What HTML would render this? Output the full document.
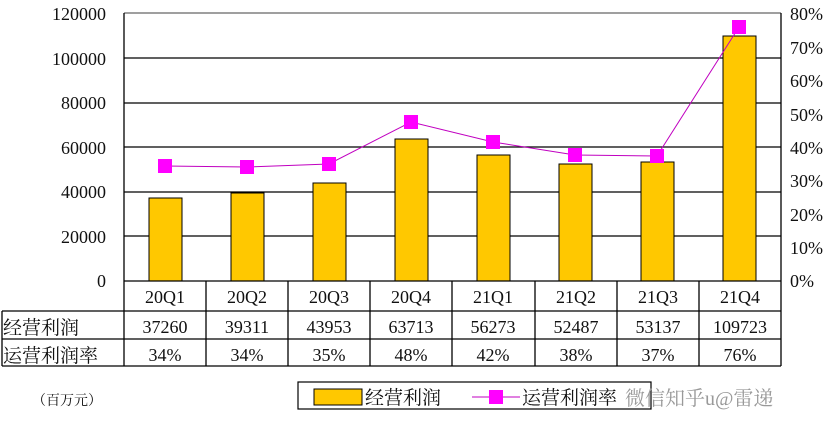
<!DOCTYPE html>
<html><head><meta charset="utf-8"><style>
html,body{margin:0;padding:0;background:#fff;width:837px;height:432px;overflow:hidden}
svg{display:block}
text{font-family:"Liberation Serif","Noto Serif CJK SC",serif;fill:#111}
</style></head><body>
<svg width="837" height="432" viewBox="0 0 837 432" xmlns="http://www.w3.org/2000/svg">
<g stroke="#000" stroke-width="1.2">
<line x1="124" y1="13" x2="781" y2="13" stroke="#666"/>
<line x1="124" y1="58" x2="781" y2="58"/>
<line x1="124" y1="103" x2="781" y2="103"/>
<line x1="124" y1="147" x2="781" y2="147"/>
<line x1="124" y1="192" x2="781" y2="192"/>
<line x1="124" y1="236" x2="781" y2="236"/>
</g>
<g fill="#FFC800" stroke="#000" stroke-width="1">
<rect x="149" y="198" width="33" height="83"/>
<rect x="231" y="193" width="33" height="88"/>
<rect x="313" y="183" width="33" height="98"/>
<rect x="395" y="139" width="33" height="142"/>
<rect x="477" y="155" width="33" height="126"/>
<rect x="559" y="164" width="33" height="117"/>
<rect x="641" y="162" width="33" height="119"/>
<rect x="723" y="36" width="33" height="245"/>
</g>
<polyline points="165,166 247,167 329,164 411,122 493,142 575,155 657,156 739,27" fill="none" stroke="#c000c0" stroke-width="1"/>
<g fill="#ff00ff">
<rect x="158" y="159" width="14" height="14"/><rect x="240" y="160" width="14" height="14"/>
<rect x="322" y="157" width="14" height="14"/><rect x="404" y="115" width="14" height="14"/>
<rect x="486" y="135" width="14" height="14"/><rect x="568" y="148" width="14" height="14"/>
<rect x="650" y="149" width="14" height="14"/><rect x="732" y="20" width="14" height="14"/>
</g>
<g stroke="#000" stroke-width="1.3" fill="none">
<line x1="124" y1="13" x2="124" y2="339"/>
<line x1="124" y1="281" x2="781" y2="281"/>
<line x1="781" y1="13" x2="781" y2="366"/>
<line x1="2" y1="311" x2="781" y2="311"/>
<line x1="2" y1="339" x2="781" y2="339"/>
<line x1="2" y1="366" x2="781" y2="366"/>
<line x1="2" y1="311" x2="2" y2="366"/>
<line x1="124" y1="339" x2="124" y2="366"/>
<line x1="206" y1="281" x2="206" y2="366"/><line x1="288" y1="281" x2="288" y2="366"/>
<line x1="370" y1="281" x2="370" y2="366"/><line x1="452" y1="281" x2="452" y2="366"/>
<line x1="535" y1="281" x2="535" y2="366"/><line x1="617" y1="281" x2="617" y2="366"/>
<line x1="699" y1="281" x2="699" y2="366"/>
</g>
<g font-size="18" text-anchor="end">
<text x="106" y="20">120000</text><text x="106" y="65">100000</text>
<text x="106" y="109">80000</text><text x="106" y="154">60000</text>
<text x="106" y="198">40000</text><text x="106" y="243">20000</text>
<text x="106" y="287">0</text>
</g>
<g font-size="18" text-anchor="start">
<text x="790" y="20">80%</text><text x="790" y="54">70%</text><text x="790" y="87">60%</text>
<text x="790" y="121">50%</text><text x="790" y="154">40%</text><text x="790" y="187">30%</text>
<text x="790" y="221">20%</text><text x="790" y="254">10%</text><text x="790" y="287">0%</text>
</g>
<g font-size="18" text-anchor="middle">
<text x="165" y="303">20Q1</text><text x="247" y="303">20Q2</text><text x="329" y="303">20Q3</text><text x="411" y="303">20Q4</text>
<text x="493" y="303">21Q1</text><text x="576" y="303">21Q2</text><text x="658" y="303">21Q3</text><text x="740" y="303">21Q4</text>
<text x="165" y="333">37260</text><text x="247" y="333">39311</text><text x="329" y="333">43953</text><text x="411" y="333">63713</text>
<text x="493" y="333">56273</text><text x="576" y="333">52487</text><text x="658" y="333">53137</text><text x="740" y="333">109723</text>
<text x="165" y="361">34%</text><text x="247" y="361">34%</text><text x="329" y="361">35%</text><text x="411" y="361">48%</text>
<text x="493" y="361">42%</text><text x="576" y="361">38%</text><text x="658" y="361">37%</text><text x="740" y="361">76%</text>
</g>
<text x="3" y="334" font-size="19">经营利润</text>
<text x="3" y="362" font-size="19">运营利润率</text>
<text x="32" y="405" font-size="14">（百万元）</text>
<rect x="298" y="382" width="353" height="27" fill="#fff" stroke="#000" stroke-width="1.2"/>
<rect x="314" y="389" width="48" height="16" fill="#FFC800" stroke="#000" stroke-width="1"/>
<text x="365" y="404" font-size="19">经营利润</text>
<line x1="472" y1="397" x2="520" y2="397" stroke="#c000c0" stroke-width="1"/>
<rect x="489" y="390" width="14" height="14" fill="#ff00ff"/>
<text x="522" y="404" font-size="19">运营利润率</text>
<text x="625" y="405" font-size="20" style="fill:#999">微信知乎u@雷递</text>
</svg>
</body></html>
